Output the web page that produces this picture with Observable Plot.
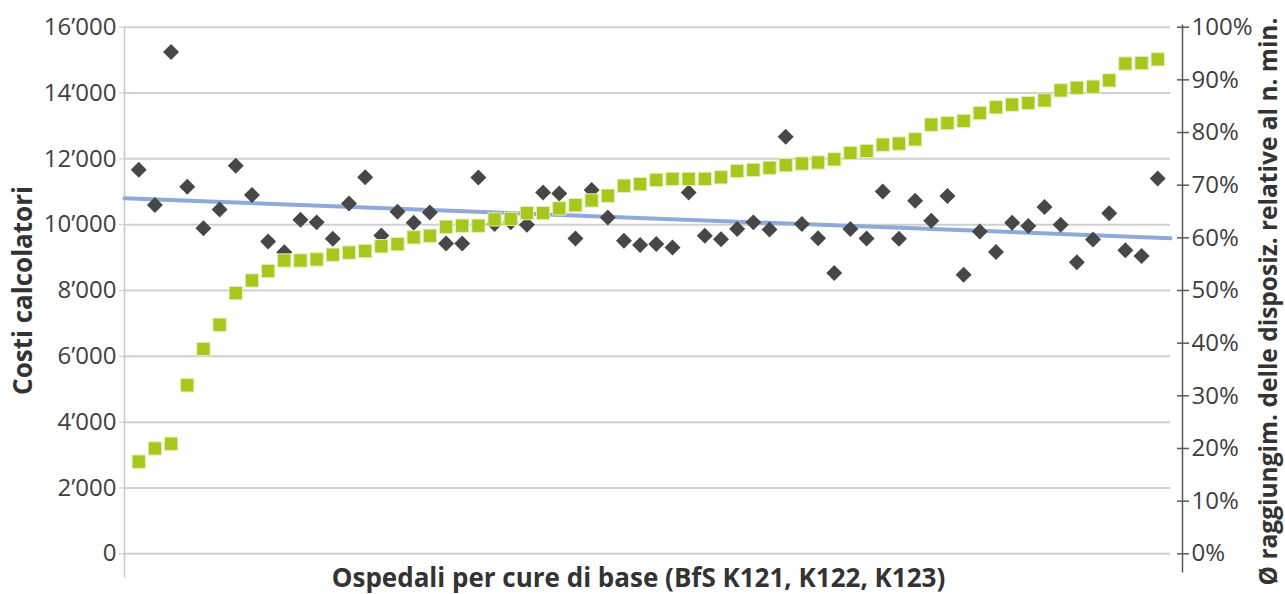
<!DOCTYPE html>
<html>
<head>
<meta charset="utf-8">
<script src="https://cdn.jsdelivr.net/npm/d3@7"></script>
<script src="https://cdn.jsdelivr.net/npm/@observablehq/plot@0.6"></script>
<style>
  html, body { margin: 0; padding: 0; background: #fff; }
  #chart svg { display: block; font-family: "Open Sans", sans-serif; }
</style>
</head>
<body>
<div id="chart"></div>
<script>
// Hospitals (index 1..64, sorted by share of minimum staffing reached)
const hospitals = d3.range(1, 65);

// Costi calcolatori (left axis, CHF)
const costs = [
  11670, 10600, 15250, 11150, 9890, 10460, 11790, 10900, 9490, 9160,
  10150, 10070, 9570, 10640, 11440, 9670, 10390, 10060, 10370, 9430,
  9430, 11430, 10020, 10070, 10000, 10980, 10950, 9580, 11050, 10220,
  9510, 9380, 9410, 9310, 10980, 9660, 9560, 9870, 10070, 9850,
  12670, 10020, 9590, 8530, 9870, 9580, 11010, 9570, 10730, 10120,
  10870, 8480, 9790, 9170, 10060, 9960, 10540, 10000, 8860, 9550,
  10350, 9220, 9050, 11400
];

// Ø raggiungimento delle disposizioni relative al numero minimo (right axis, %)
const shares = [
  17.5, 20.0, 20.9, 32.0, 38.9, 43.5, 49.5, 51.9, 53.7, 55.7,
  55.7, 55.9, 56.8, 57.2, 57.5, 58.4, 58.8, 60.1, 60.4, 62.1,
  62.3, 62.3, 63.5, 63.6, 64.7, 64.7, 65.6, 66.2, 67.1, 68.0,
  69.9, 70.2, 71.0, 71.2, 71.2, 71.2, 71.5, 72.7, 72.9, 73.3,
  73.8, 74.1, 74.3, 74.9, 76.1, 76.5, 77.7, 77.9, 78.7, 81.5,
  81.8, 82.2, 83.7, 84.8, 85.3, 85.6, 86.1, 88.0, 88.5, 88.7,
  89.9, 93.1, 93.2, 93.9
];

// Axis ticks
const leftTicks = [0, 2000, 4000, 6000, 8000, 10000, 12000, 14000, 16000];
const rightTicks = [0, 10, 20, 30, 40, 50, 60, 70, 80, 90, 100];

// Texts
const yTitle = "Costi calcolatori";
const y2Title = "Ø raggiungim. delle disposiz. relative al n. min.";
const xTitle = "Ospedali per cure di base (BfS K121, K122, K123)";

// Right axis (0–100 %) shares the plot height with the left axis (0–16'000)
const LEFT_MAX = 16000;
const toLeft = p => p / 100 * LEFT_MAX;

const costData = hospitals.map((h, i) => ({x: h, y: costs[i]}));
const shareData = hospitals.map((h, i) => ({x: h, y: toLeft(shares[i])}));

const xDomain = [0.12, 64.79];

// Linear trend of costs
const mx = d3.mean(costData, d => d.x), my = d3.mean(costData, d => d.y);
const slope = d3.sum(costData, d => (d.x - mx) * (d.y - my)) / d3.sum(costData, d => (d.x - mx) ** 2);
const trend = xDomain.map(x => ({x, y: my + slope * (x - mx)}));

const leftFmt = d => d3.format(",")(d).replace(/,/g, "\u2019");

const chart = Plot.plot({
  width: 1285,
  height: 594,
  marginLeft: 124,
  marginRight: 115,
  marginTop: 26.7,
  marginBottom: 40.7,
  style: {fontFamily: "Open Sans", background: "#fff", overflow: "visible"},
  x: {domain: xDomain, axis: null},
  y: {domain: [0, LEFT_MAX], axis: null},
  marks: [
    Plot.gridY(leftTicks, {stroke: "#d0d0d0", strokeOpacity: 1, strokeWidth: 2}),
    Plot.frame({anchor: "left", stroke: "#c8c8c8", strokeWidth: 1.5, insetBottom: -23}),
    Plot.axisY(leftTicks, {
      anchor: "left", tickSize: 5, tickPadding: 3, stroke: "#c8c8c8",
      fill: "#404040", fontSize: 24, tickFormat: leftFmt, label: null
    }),
    Plot.frame({anchor: "right", stroke: "#595959", strokeWidth: 1.5, dx: 12, insetTop: -2, insetBottom: -18}),
    Plot.axisY(rightTicks.map(toLeft), {
      anchor: "right", tickSize: 12, dx: 6, stroke: "#595959", strokeWidth: 1.5,
      tickFormat: () => "", label: null
    }),
    Plot.axisY(rightTicks.map(toLeft), {
      anchor: "right", tickSize: 0, tickPadding: 21, fill: "#404040", fontSize: 24,
      tickFormat: d => `${Math.round(d / LEFT_MAX * 100)}%`, label: null
    }),
    Plot.line(trend, {x: "x", y: "y", stroke: "#8eaadb", strokeWidth: 4}),
    Plot.dot(costData, {x: "x", y: "y", symbol: "diamond2", r: 7.2, fill: "#474747", stroke: "none"}),
    Plot.dot(shareData, {x: "x", y: "y", symbol: "square", r: 7.5, fill: "#a6c71b", stroke: "#e3eeb9", strokeWidth: 1}),
    Plot.text([yTitle], {text: d => d, frameAnchor: "left", textAnchor: "middle", rotate: -90, dx: -101, dy: 0, fontSize: 26, fontWeight: "bold", fill: "#333"}),
    Plot.text([y2Title], {text: d => d, frameAnchor: "right", textAnchor: "middle", rotate: -90, dx: 99, dy: 11, fontSize: 24.5, fontWeight: "bold", fill: "#333"}),
    Plot.text([xTitle], {text: d => d, frameAnchor: "bottom", textAnchor: "middle", dy: 25, dx: -9, lineAnchor: "middle", fontSize: 26, fontWeight: "bold", fill: "#333"})
  ]
});

document.getElementById("chart").appendChild(chart);
</script>
</body>
</html>
